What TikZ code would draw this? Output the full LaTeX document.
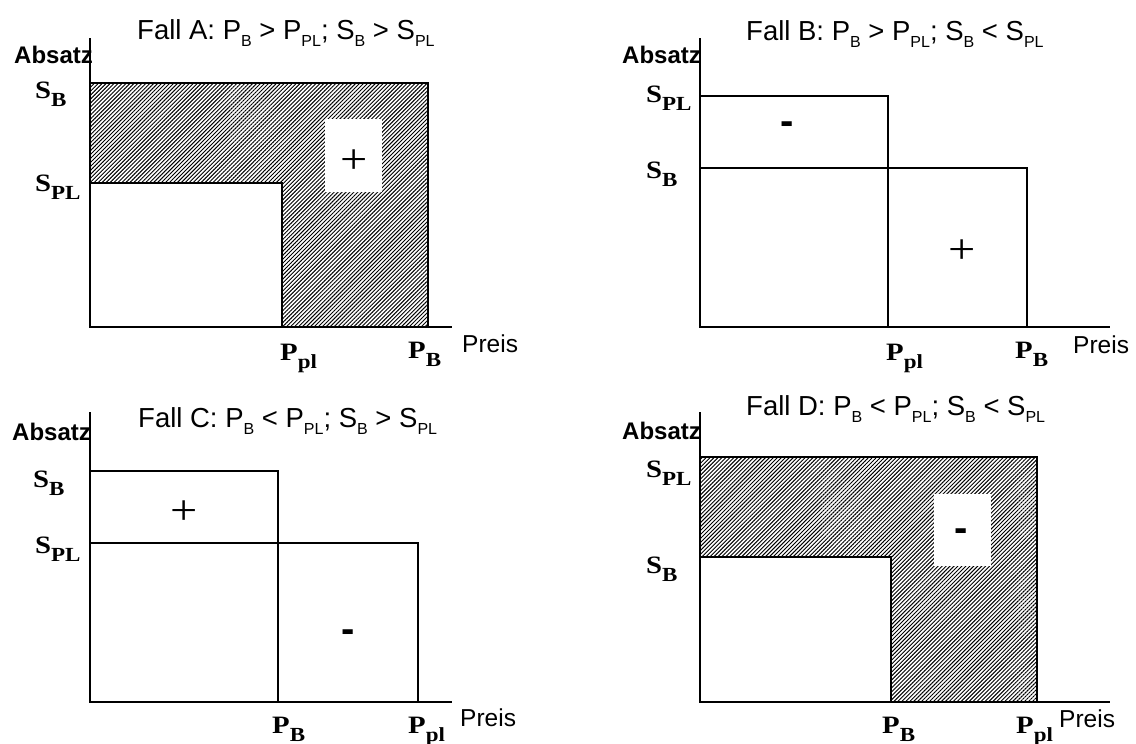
\documentclass[tikz,border=0pt]{standalone}
\usepackage{fontspec}
\setmainfont{Liberation Sans}
\newfontfamily\lblfont[FakeStretch=1.15]{Liberation Serif}
\usetikzlibrary{patterns.meta}
\newcommand{\tsub}[1]{\raisebox{-7pt}{\fontsize{16}{16}\selectfont #1}}
\newcommand{\lsub}[1]{\raisebox{-8pt}{\fontsize{20}{20}\selectfont #1}}
\tikzset{
  ttl/.style={anchor=base west, inner sep=0pt, font=\fontsize{27.5}{27.5}\selectfont},
  axlbl/.style={anchor=base west, inner sep=0pt, font=\fontsize{24}{24}\selectfont\bfseries},
  preis/.style={anchor=base west, inner sep=0pt, font=\fontsize{24.5}{24.5}\selectfont},
  val/.style={anchor=base west, inner sep=0pt, font=\lblfont\bfseries\fontsize{25}{25}\selectfont},
  sign/.style={inner sep=0pt, font=\lblfont\fontsize{42}{42}\selectfont},
  minus/.style={inner sep=0pt, font=\bfseries\fontsize{40}{40}\selectfont},
  axisline/.style={line width=2.8pt},
  boxline/.style={line width=2pt},
  hatch/.style={boxline, pattern={Lines[angle=45,distance=2.8pt,line width=0.95pt]}, pattern color=black},
}
\begin{document}
\begin{tikzpicture}[x=1pt,y=-1pt]
\fill[white] (0,0) rectangle (1136,744);
\useasboundingbox (0,0) rectangle (1136,744);

% ---------- Panel A ----------
\draw[hatch] (90,83) rectangle (428,327);
\draw[boxline, fill=white] (90,183) rectangle (282,327);
\fill[white] (325,119) rectangle (382,192);
\node[sign] (Aplus) at (354,162) {+};
\node[ttl] (Atitle) at (137,39) {Fall A: P\tsub{B} > P\tsub{PL}; S\tsub{B} > S\tsub{PL}};
\node[axlbl] (Aabs) at (14,63) {Absatz};
\node[val] (ASB) at (35,98) {S\lsub{B}};
\node[val] (ASPL) at (35,191) {S\lsub{PL}};
\node[val] (APpl) at (280,360) {P\lsub{pl}};
\node[val] (APB) at (408,358) {P\lsub{B}};
\node[preis] (Apreis) at (462,352) {Preis};
\draw[axisline] (90,38) -- (90,327) -- (452,327);

% ---------- Panel B ----------
\draw[boxline] (700,96) rectangle (888,327);
\draw[boxline] (700,168) rectangle (1027,327);
\node[minus] (Bminus) at (787,128) {-};
\node[sign] (Bplus) at (962,252) {+};
\node[ttl] (Btitle) at (746,40) {Fall B: P\tsub{B} > P\tsub{PL}; S\tsub{B} < S\tsub{PL}};
\node[axlbl] (Babs) at (622,63) {Absatz};
\node[val] (BSPL) at (646,102) {S\lsub{PL}};
\node[val] (BSB) at (646,178) {S\lsub{B}};
\node[val] (BPpl) at (886,360) {P\lsub{pl}};
\node[val] (BPB) at (1015,358) {P\lsub{B}};
\node[preis] (Bpreis) at (1073,353) {Preis};
\draw[axisline] (700,38) -- (700,327) -- (1110,327);

% ---------- Panel C ----------
\draw[boxline] (90,471) rectangle (278,702);
\draw[boxline] (90,543) rectangle (418,702);
\node[sign] (Cplus) at (184,513) {+};
\node[minus] (Cminus) at (348,636) {-};
\node[ttl] (Ctitle) at (138,427) {Fall C: P\tsub{B} < P\tsub{PL}; S\tsub{B} > S\tsub{PL}};
\node[axlbl] (Cabs) at (12,440) {Absatz};
\node[val] (CSB) at (33,487) {S\lsub{B}};
\node[val] (CSPL) at (35,553) {S\lsub{PL}};
\node[val] (CPB) at (272,733) {P\lsub{B}};
\node[val] (CPpl) at (408,733) {P\lsub{pl}};
\node[preis] (Cpreis) at (460,726) {Preis};
\draw[axisline] (90,412) -- (90,702) -- (452,702);

% ---------- Panel D ----------
\draw[hatch] (700,457) rectangle (1037,702);
\draw[boxline, fill=white] (700,557) rectangle (891,702);
\fill[white] (934,494) rectangle (991,566);
\node[minus] (Dminus) at (961,535) {-};
\node[ttl] (Dtitle) at (746,415) {Fall D: P\tsub{B} < P\tsub{PL}; S\tsub{B} < S\tsub{PL}};
\node[axlbl] (Dabs) at (622,439) {Absatz};
\node[val] (DSPL) at (646,477) {S\lsub{PL}};
\node[val] (DSB) at (646,573) {S\lsub{B}};
\node[val] (DPB) at (882,733) {P\lsub{B}};
\node[val] (DPpl) at (1016,733) {P\lsub{pl}};
\node[preis] (Dpreis) at (1059,727) {Preis};
\draw[axisline] (700,412) -- (700,702) -- (1110,702);
\end{tikzpicture}
\end{document}
